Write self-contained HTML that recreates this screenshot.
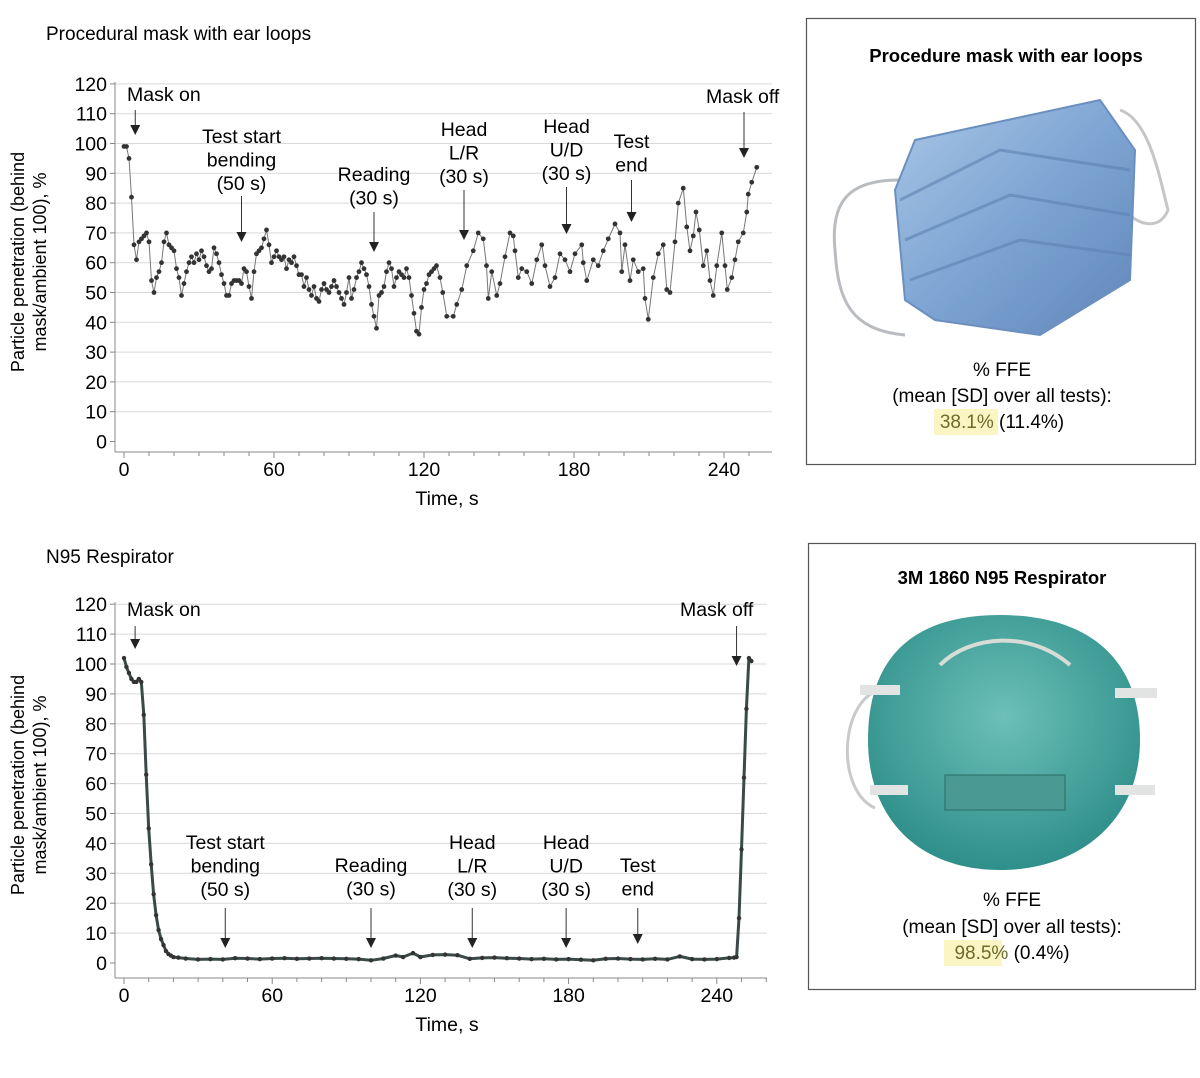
<!DOCTYPE html>
<html><head><meta charset="utf-8"><style>
html,body{margin:0;padding:0;background:#fff;}
body{width:1200px;height:1078px;position:relative;overflow:hidden;font-family:"Liberation Sans",sans-serif;color:#222;}
svg{position:absolute;left:0;top:0;}
</style></head><body>
<svg id="main" width="1200" height="1078" xmlns="http://www.w3.org/2000/svg" font-family="Liberation Sans, sans-serif">
<defs>
<linearGradient id="blueg" x1="0" y1="0" x2="1" y2="1"><stop offset="0" stop-color="#a9c6e6"/><stop offset="0.5" stop-color="#7ea5d3"/><stop offset="1" stop-color="#5f86b8"/></linearGradient>
<radialGradient id="greeng" cx="0.5" cy="0.4" r="0.6"><stop offset="0" stop-color="#6cc0b8"/><stop offset="1" stop-color="#2f8f8a"/></radialGradient>
</defs>
<g id="top"></g>
<g id="bot"></g>

<g>
<rect x="806.5" y="18.5" width="389" height="446" fill="#fff" stroke="#555" stroke-width="1.2"/>
<text x="1006" y="62" text-anchor="middle" font-size="18.5" font-weight="bold">Procedure mask with ear loops</text>
<g>
<path d="M900,180 C850,180 830,200 835,250 C838,300 850,330 905,335" fill="none" stroke="#b9bcc0" stroke-width="3"/>
<path d="M1120,110 C1150,120 1160,180 1168,210 C1160,230 1140,225 1130,215" fill="none" stroke="#c4c6c8" stroke-width="3"/>
<path d="M915,140 L1100,100 L1135,150 L1130,280 L1040,335 L935,320 L905,300 L895,190 Z" fill="url(#blueg)" stroke="#6b8fbf" stroke-width="2"/>
<path d="M900,200 L1000,150 L1130,170 M905,240 L1010,195 L1130,215 M910,280 L1020,240 L1130,255" fill="none" stroke="#5d82b3" stroke-width="3" opacity="0.6"/>
</g>
<text x="1002" y="376" text-anchor="middle" font-size="19">% FFE</text>
<text x="1002" y="402" text-anchor="middle" font-size="19">(mean [SD] over all tests):</text>
<rect x="934" y="409" width="64" height="26" fill="#fbf5c4"/>
<text x="1002" y="428" text-anchor="middle" font-size="19"><tspan fill="#6d6a2a">38.1%</tspan> (11.4%)</text>
</g>

<g>
<rect x="808.5" y="543.5" width="387" height="446" fill="#fff" stroke="#555" stroke-width="1.2"/>
<text x="1002" y="584" text-anchor="middle" font-size="18.5" font-weight="bold">3M 1860 N95 Respirator</text>
<g>
<path d="M880,690 C840,700 835,790 875,808" fill="none" stroke="#c8cacc" stroke-width="3"/>
<path d="M1000,615 C1090,615 1140,660 1140,740 C1140,820 1080,870 1000,870 C920,870 868,820 868,740 C868,660 910,615 1000,615 Z" fill="url(#greeng)"/>
<path d="M940,665 C970,635 1030,630 1070,665" fill="none" stroke="#d7dcd8" stroke-width="4"/>
<rect x="860" y="685" width="40" height="10" fill="#e2e4e4"/><rect x="1115" y="688" width="42" height="10" fill="#e2e4e4"/>
<rect x="870" y="785" width="38" height="10" fill="#e2e4e4"/><rect x="1115" y="785" width="40" height="10" fill="#e2e4e4"/>
<rect x="945" y="775" width="120" height="35" fill="#4a9a93" stroke="#2b6b66"/>
</g>
<text x="1012" y="906" text-anchor="middle" font-size="19">% FFE</text>
<text x="1012" y="933" text-anchor="middle" font-size="19">(mean [SD] over all tests):</text>
<rect x="944" y="940" width="58" height="26" fill="#fbf5c4"/>
<text x="1012" y="959" text-anchor="middle" font-size="19"><tspan fill="#6d6a2a">98.5%</tspan> (0.4%)</text>
</g>
</svg>
<script>
// ---- data ----
const topT = [0,1,2,3,4,5,6,7,8,9,10,11,12,13,14,15,16,17,18,19,20,21,22,23,24,25,26,27,28,29,30,31,32,33,34,35,36,37,38,39,40,41,42,43,44,45,46,47,48,49,50,51,52,53,54,55,56,57,58,59,60,61,62,63,64,65,66,67,68,69,70,71,72,73,74,75,76,77,78,79,80,81,82,83,84,85,86,87,88,89,90,91,92,93,94,95,96,97,98,99,100,101,102,103,104,105,106,107,108,109,110,111,112,113,114,115,116,117,118,119,120,121,122,123,124,125,126.4,127.5,129.1,131.7,133.1,135.1,137.1,139.7,141.7,143.7,145,145.7,147.1,149.1,150.4,152.4,154.4,155.7,156.4,157.7,159.1,161.1,163.1,165.1,167.1,168.4,170.4,172.4,174.4,176.4,178.4,180.4,183.1,183.7,185.1,187.7,189.7,191.7,193.7,196.4,198.4,199.1,200.4,202.4,203.7,205.7,207.7,208.4,209.7,211.7,213.7,215.7,217.1,218.4,220.4,221.7,223.7,225.1,226.4,227.7,228.8,230.1,231.7,233.1,234.4,235.7,237.1,239.1,240.4,241.3,243.1,244.4,245.7,247.7,249.1,249.7,251.1,253.1];
const topV = [99,99,95,82,66,61,67,68,69,70,67,54,50,55,57,60,67,70,66,65,64,58,55,49,53,57,60,62,60,63,61,64,62,59,57,58,65,63,60,56,53,49,49,53,54,54,54,53,58,57,52,48,57,63,64,65,68,71,66,60,62,64,62,61,62,58,61,60,62,59,56,56,52,55,51,49,52,48,47,51,53,51,50,52,54,52,50,48,46,50,55,48,51,55,57,60,58,56,52,46,42,38,49,50,52,57,60,58,52,55,57,56,55,58,55,49,43,37,36,45,51,53,56,57,58,59,55,50,42,42,46,51,59,64,70,68,59,48,57,49,53,62,70,69,64,55,58,57,53,61,66,59,52,55,63,61,57,63,66,60,54,61,59,64,68,73,70,57,66,54,61,57,58,48,41,55,63,66,51,50,67,80,85,72,64,69,77,71,59,64,54,49,59,70,59,51,55,61,67,70,77,83,87,92,93];
const botT = [0,1,2,3,4,5,6,7,8,9,10,11,12,13,14,15,16,17,18,19,20,22,25,30,35,40,45,50,55,60,65,70,75,80,85,90,95,100,105,110,113,117,120,125,130,135,140,145,150,155,160,165,170,175,180,185,190,195,200,205,210,215,220,225,230,235,240,245,247,248,249,250,251,252,253,254];
const botV = [102,99,97,95,94,94,95,94,83,63,45,33,23,16,11,8,6,4,3,2.5,2,1.8,1.5,1.2,1.3,1.2,1.6,1.5,1.3,1.5,1.6,1.4,1.5,1.6,1.5,1.4,1.3,0.9,1.5,2.5,2,3.3,2,2.7,2.8,2.6,1.4,1.7,1.8,1.6,1.5,1.3,1.4,1.2,1.3,1.1,0.9,1.4,1.5,1.3,1.2,1.4,1.2,2.2,1.3,1.2,1.3,1.7,1.8,2,15,38,62,85,102,101];
const yTicks = [0,10,20,30,40,50,60,70,80,90,100,110,120];
const xTicks = [0,60,120,180,240];
const topNotes = [["Mask on"],["Test start","bending","(50 s)"],["Reading","(30 s)"],["Head","L/R","(30 s)"],["Head","U/D","(30 s)"],["Test","end"],["Mask off"]];
const topNoteT = [4.5,47,100,136,177,203,248];
const botNotes = [["Mask on"],["Test start","bending","(50 s)"],["Reading","(30 s)"],["Head","L/R","(30 s)"],["Head","U/D","(30 s)"],["Test","end"],["Mask off"]];
const botNoteT = [4.5,41,100,141,179,208,248];

const NS="http://www.w3.org/2000/svg";
function mk(tag,attrs,parent){const e=document.createElementNS(NS,tag);for(const k in attrs)e.setAttribute(k,attrs[k]);parent.appendChild(e);return e;}

function chart(g,cfg){
  const xs=t=>cfg.x0+t*cfg.kx, ys=v=>cfg.y0-v*cfg.ky;
  const t0=mk('text',{x:46,y:cfg.titleY,'font-size':19},g);t0.textContent=cfg.title;
  
  
  yTicks.forEach(v=>{
    if(v>0){const l=mk('line',{x1:115,x2:cfg.xEnd,y1:ys(v),y2:ys(v),stroke:'#d9d9d9','stroke-width':1},g);
    
    }
    mk('line',{x1:110,x2:115,y1:ys(v),y2:ys(v),stroke:'#888'},g);
    const t=mk('text',{x:107,y:ys(v)+7,'text-anchor':'end','font-size':19.5},g);t.textContent=v;
    
    
  });
  mk('line',{x1:115,x2:115,y1:ys(120)-2,y2:cfg.axisY,stroke:'#888'},g);
  const ax=mk('line',{x1:115,x2:cfg.xEnd,y1:cfg.axisY,y2:cfg.axisY,stroke:'#888'},g);
  
  
  for(let t=0;xs(t)<=cfg.xEnd;t+=10){mk('line',{x1:xs(t),x2:xs(t),y1:cfg.axisY,y2:cfg.axisY+(t%60?4:6),stroke:'#888'},g);}
  xTicks.forEach(t=>{const e=mk('text',{x:xs(t),y:cfg.axisY+24,'text-anchor':'middle','font-size':19.5},g);e.textContent=t;
    
    });
  const xl=mk('text',{x:447,y:cfg.axisY+53,'text-anchor':'middle','font-size':19.5},g);xl.textContent='Time, s';
  
  
  const yl=mk('text',{transform:`translate(24,${cfg.ylMid}) rotate(-90)`,'text-anchor':'middle','font-size':18},g);
  
  
  mk('tspan',{x:0,dy:0},yl).textContent='Particle penetration (behind';
  mk('tspan',{x:0,dy:22},yl).textContent='mask/ambient 100), %';
  // series
  const d=cfg.T.map((t,i)=>(i?'L':'M')+xs(t).toFixed(1)+','+ys(cfg.V[i]).toFixed(1)).join(' ');
  const p=mk('path',{d:d,fill:'none',stroke:cfg.lineColor,'stroke-width':cfg.lineW,'stroke-linejoin':'round'},g);
  
  
  cfg.T.forEach((t,i)=>{const c=mk('circle',{cx:xs(t),cy:ys(cfg.V[i]),r:cfg.r,fill:'#333'},g);
    
    });
  // annotations
  cfg.notes.forEach((lines,i)=>{
    const x=xs(cfg.noteT[i]);const ng=mk('g',{},g);
    
    
    const L=cfg.noteLay[i];
    const tx=L[3]!==undefined?L[3]:x;
    lines.forEach((s,j)=>{const e=mk('text',{x:tx,y:L[0]+j*23.5,'text-anchor':L[3]!==undefined?'start':'middle','font-size':19.5},ng);e.textContent=s;});
    mk('line',{x1:x,x2:x,y1:L[1],y2:L[2]-8,stroke:'#333','stroke-width':1},ng);
    mk('path',{d:`M${x-5},${L[2]-10} L${x+5},${L[2]-10} L${x},${L[2]} Z`,fill:'#222'},ng);
  });
}
chart(document.getElementById('top'),{title:'Procedural mask with ear loops',titleY:40,x0:124,kx:2.5,y0:441.5,ky:2.98,xEnd:772,axisY:452,ylMid:262,
  T:topT,V:topV,r:2.4,lineColor:'#777',lineW:1,notes:topNotes,noteT:topNoteT,
  noteLay:[[101,110,135,127],[143,196,242],[181,212,252],[136,190,240],[133,187,234],[148,180,222],[103,112,158,706]]});
chart(document.getElementById('bot'),{title:'N95 Respirator',titleY:563,x0:124,kx:2.47,y0:963,ky:2.99,xEnd:767,axisY:978,ylMid:785,
  T:botT,V:botV,r:2.2,lineColor:'#3a4a48',lineW:3,notes:botNotes,noteT:botNoteT,
  noteLay:[[616,626,649,127],[849,908,948],[872,908,948],[849,908,948],[849,908,948],[872,908,944],[616,626,666,680]]});
</script>
</body></html>
